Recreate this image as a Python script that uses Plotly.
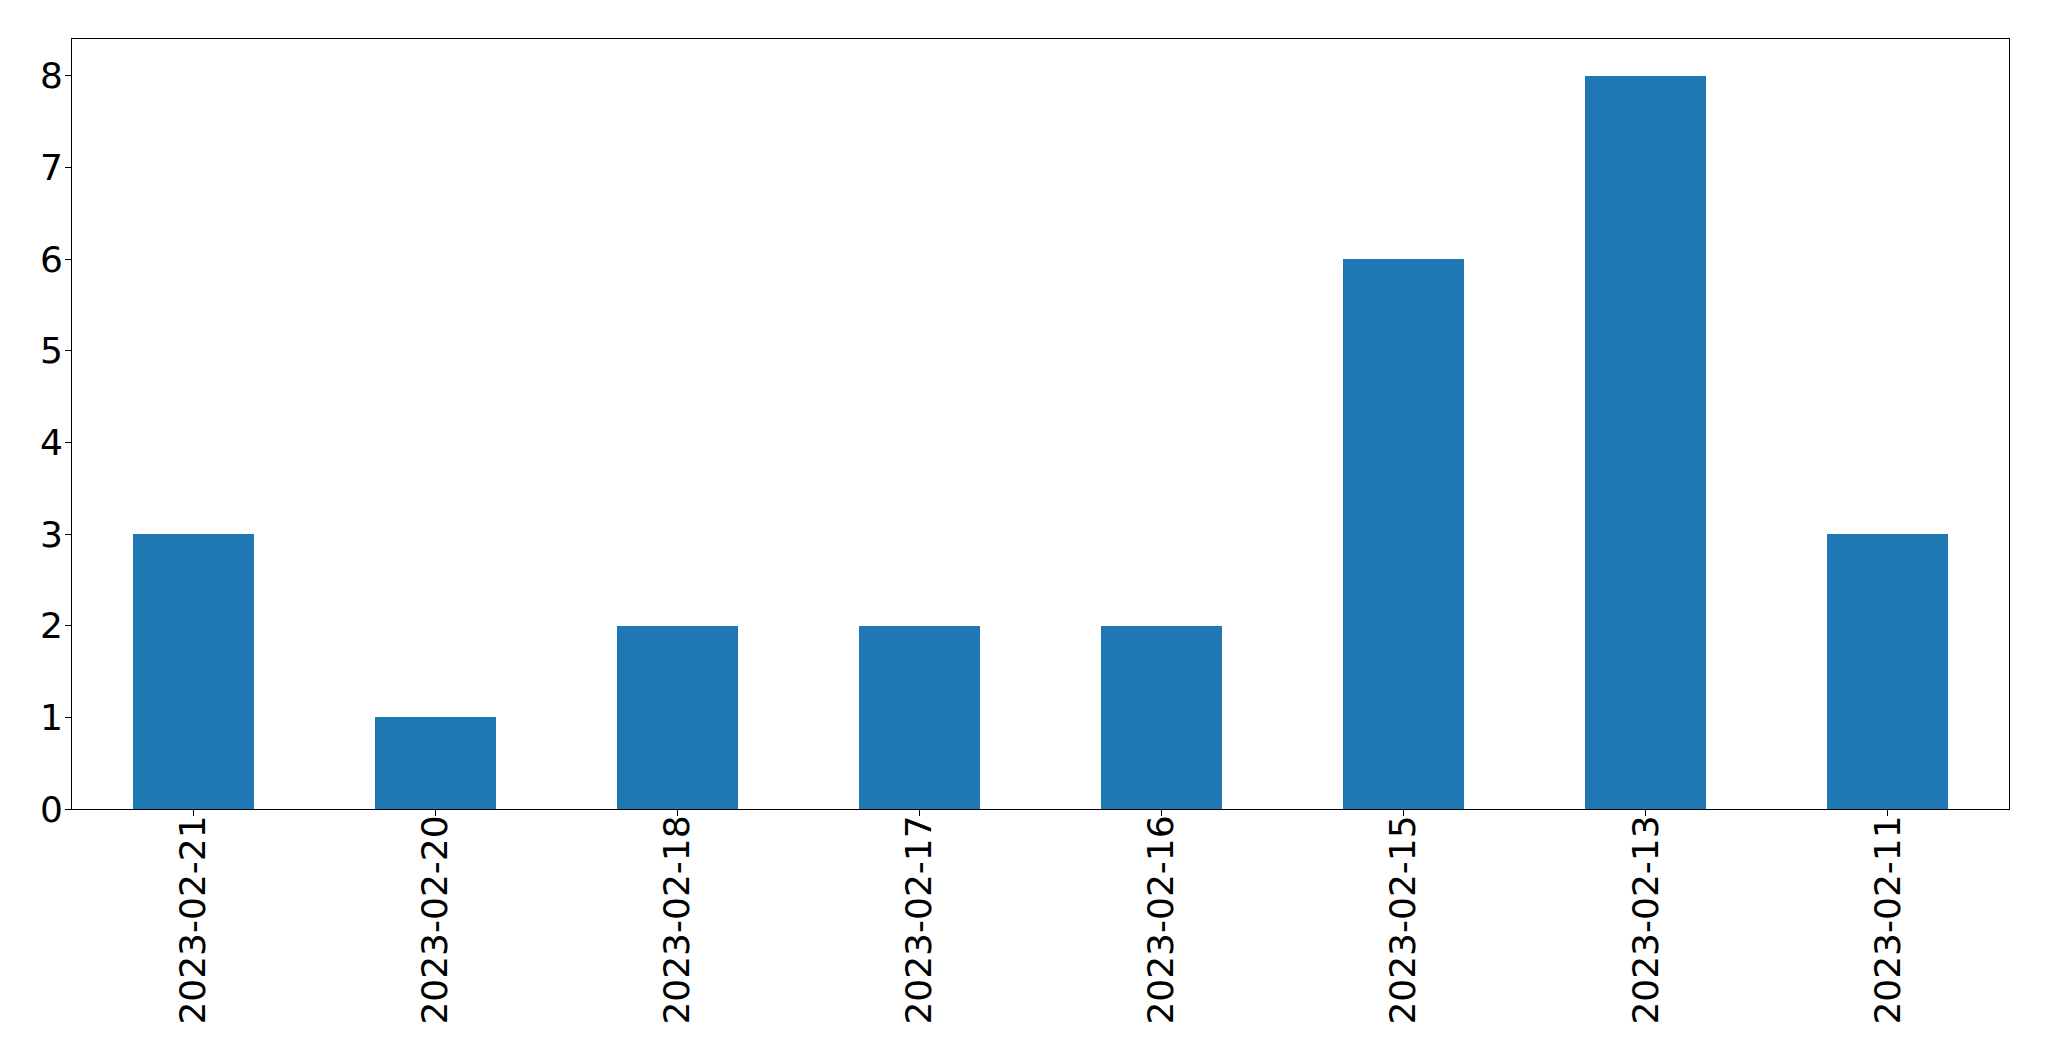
import plotly.graph_objects as go

dates = ["2023-02-21", "2023-02-20", "2023-02-18", "2023-02-17",
         "2023-02-16", "2023-02-15", "2023-02-13", "2023-02-11"]
counts = [3, 1, 2, 2, 2, 6, 8, 3]
y_ticks = [0, 1, 2, 3, 4, 5, 6, 7, 8]

fig = go.Figure(go.Bar(x=dates, y=counts, width=0.5, marker_color="#1f77b4",
                       marker_line_width=0))

fig.update_layout(
    width=2041, height=1053,
    margin=dict(l=64, r=40, t=31, b=252, pad=0),
    paper_bgcolor="white", plot_bgcolor="white",
    font=dict(family="DejaVu Sans", color="black"),
    showlegend=False,
    bargap=0,
)
fig.update_xaxes(
    type="category", range=[-0.5, 7.5], automargin=False,
    tickangle=-90, tickfont=dict(size=36),
    showline=True, linecolor="black", linewidth=1, mirror=True,
    ticks="outside", ticklen=6, tickwidth=1, tickcolor="black",
    showgrid=False, zeroline=False, ticklabelstandoff=-15,
)
fig.update_yaxes(
    range=[0, 8.4], tickvals=y_ticks, tickfont=dict(size=36), automargin=False,
    showline=True, linecolor="black", linewidth=1, mirror=True,
    ticks="outside", ticklen=6, tickwidth=1, tickcolor="black",
    showgrid=False, zeroline=False, ticklabelstandoff=-5,
)
fig.write_html("out.html")
